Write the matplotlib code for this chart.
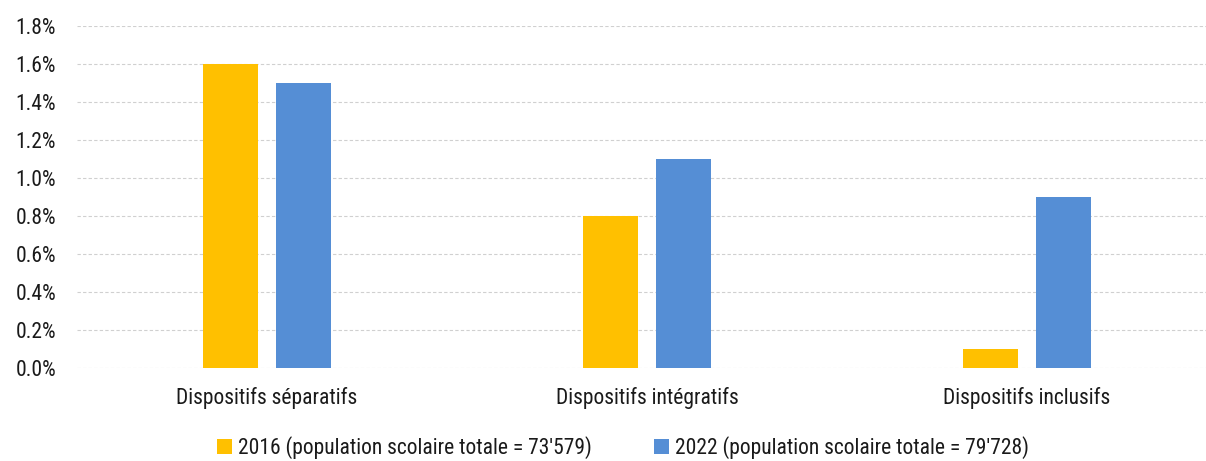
import matplotlib
matplotlib.use("Agg")
import matplotlib.pyplot as plt
from matplotlib import font_manager
from matplotlib.ticker import FuncFormatter
import numpy as np

categories = ["Dispositifs séparatifs", "Dispositifs intégratifs", "Dispositifs inclusifs"]
series_labels = ["2016 (population scolaire totale = 73'579)",
                 "2022 (population scolaire totale = 79'728)"]
values_2016 = [1.6, 0.8, 0.1]
values_2022 = [1.5, 1.1, 0.9]
yticks = [0.0, 0.2, 0.4, 0.6, 0.8, 1.0, 1.2, 1.4, 1.6, 1.8]

names = {f.name for f in font_manager.fontManager.ttflist}
preferred = ["Liberation Sans Narrow", "Arial Narrow", "Roboto Condensed",
             "Archivo Narrow", "PT Sans Narrow", "Liberation Sans", "DejaVu Sans"]
family = [f for f in preferred if f in names]
plt.rcParams["font.family"] = family

colors = ["#FFC000", "#558ED5"]
text_color = "#1a1a1a"
fs = 15.5

fig = plt.figure(figsize=(12.06, 4.61), dpi=100)
W, H = 1206, 461
left, right = 77, 1217
top, bottom = 26, 368
ax = fig.add_axes([left / W, 1 - bottom / H, (right - left) / W, (bottom - top) / H])

x = np.arange(len(categories))
bw = 0.145
off = 0.096
ax.bar(x - off, values_2016, bw, color=colors[0], label=series_labels[0], zorder=3)
ax.bar(x + off, values_2022, bw, color=colors[1], label=series_labels[1], zorder=3)

ax.set_xlim(-0.5, len(categories) - 0.5)
ax.set_ylim(0, 1.8)
ax.set_yticks(yticks)
ax.yaxis.set_major_formatter(FuncFormatter(lambda v, p: f"{v:.1f}%"))
ax.set_xticks(x)
ax.set_xticklabels(categories)

for s in ax.spines.values():
    s.set_visible(False)
ax.tick_params(axis="both", length=0, labelsize=fs, colors=text_color)
ax.tick_params(axis="y", pad=15)
ax.tick_params(axis="x", pad=14)
ax.grid(axis="y", color="#d0d0d0", linestyle=(0, (3, 2)), linewidth=0.8, zorder=0)
ax.set_axisbelow(True)

leg = fig.legend(loc="center", bbox_to_anchor=(623 / W, 1 - 448 / H), ncol=2,
                 frameon=False, fontsize=fs, handlelength=0.7, handleheight=0.7,
                 handletextpad=0.25, columnspacing=2.9, labelcolor=text_color,
                 borderpad=0.2)

fig.savefig("out.png", dpi=100)
